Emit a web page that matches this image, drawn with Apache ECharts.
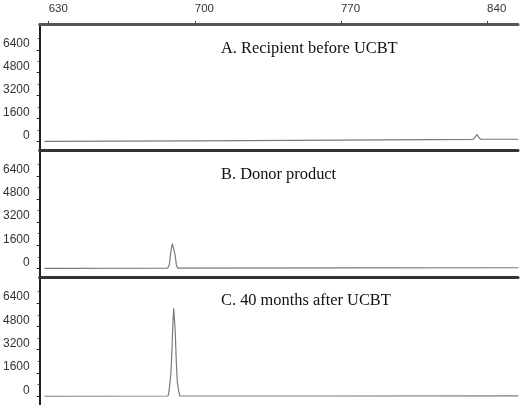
<!DOCTYPE html>
<html>
<head>
<meta charset="utf-8">
<script src="https://cdn.jsdelivr.net/npm/echarts@6/dist/echarts.min.js"></script>
<style>html,body{margin:0;padding:0;background:#fff}#c{width:520px;height:405px}</style>
</head>
<body>
<div id="c"></div>
<script>
// Tick labels
const xTicks = [630, 700, 770, 840];
const yTicks = [0, 1600, 3200, 4800, 6400];
const yMinorTicks = [800, 2400, 4000, 5600, 7200];
// Panel titles
const panelTitles = ['A. Recipient before UCBT', 'B. Donor product', 'C. 40 months after UCBT'];
// Traces: [size (bp), signal]
const traceA = [[628, 0], [700, 40], [770, 90], [833.2, 140], [834.3, 300], [835.1, 480], [835.9, 300], [836.9, 150], [855, 150]];
const traceB = [[628, 0], [687.0, 20], [687.8, 250], [688.5, 1150], [689.2, 1700], [689.6, 1520], [690.0, 1640], [690.6, 900], [691.2, 200], [691.8, 20], [770, 30], [855, 40]];
const traceC = [[628, 0], [687.2, 20], [687.7, 400], [688.5, 1500], [689.0, 3000], [689.5, 5000], [689.9, 6050], [690.2, 6000], [690.6, 4500], [691.1, 2500], [691.6, 1000], [692.2, 400], [692.8, 20], [770, 20], [855, 30]];
const traces = [traceA, traceB, traceC];

const grids = [
  {left: 38, right: 2, top: 24, height: 126},
  {left: 38, right: 2, top: 150, height: 127},
  {left: 38, right: 2, top: 277, height: 128}
];
const X_MIN = 625.7, X_MAX = 854.8, Y_MIN = -600, Y_MAX = 8200;

const xAxis = grids.map((g, i) => ({
  type: 'value', gridIndex: i, position: 'top', min: X_MIN, max: X_MAX,
  axisLine: {show: true, onZero: false, lineStyle: {color: i === 0 ? '#555' : '#333', width: 3}},
  axisTick: {show: i === 0, length: 3, inside: false, customValues: xTicks, lineStyle: {color: '#444', width: 1}},
  axisLabel: {show: i === 0, customValues: xTicks, align: 'left', margin: 9,
    formatter: v => String(v),
    fontFamily: 'Liberation Sans, Arial, sans-serif', fontSize: 11.5, color: '#333'},
  splitLine: {show: false}
}));
const yAxis = [];
grids.forEach((g, i) => {
  yAxis.push({
    type: 'value', gridIndex: i, position: 'left', min: Y_MIN, max: Y_MAX,
    axisLine: {show: true, onZero: false, lineStyle: {color: '#222', width: 2}},
    axisTick: {show: true, length: 3, customValues: yTicks, lineStyle: {color: '#222', width: 1}},
    axisLabel: {show: true, customValues: yTicks, verticalAlign: 'bottom', margin: 10,
      formatter: v => String(v),
      fontFamily: 'Liberation Sans, Arial, sans-serif', fontSize: 12, color: '#333'},
    splitLine: {show: false}
  });
  yAxis.push({
    type: 'value', gridIndex: i, position: 'left', min: Y_MIN, max: Y_MAX,
    axisLine: {show: false, onZero: false},
    axisTick: {show: true, length: 2, customValues: yMinorTicks, lineStyle: {color: '#444', width: 1}},
    axisLabel: {show: false},
    splitLine: {show: false}
  });
});

const chart = echarts.init(document.getElementById('c'), null, {renderer: 'canvas'});
chart.setOption({
  animation: false,
  backgroundColor: '#fff',
  title: panelTitles.map((t, i) => ({
    text: t, left: 216, top: [36, 162, 288][i],
    textStyle: {fontFamily: 'Liberation Serif, Times New Roman, serif', fontWeight: 'normal', fontSize: 16.4, color: '#111'}
  })),
  grid: grids,
  xAxis: xAxis,
  yAxis: yAxis,
  series: traces.map((d, i) => ({
    type: 'line', xAxisIndex: i, yAxisIndex: i * 2, data: d,
    showSymbol: false, symbol: 'none', clip: true,
    lineStyle: {color: '#7a7a7a', width: 1.2}
  }))
});
</script>
</body>
</html>
